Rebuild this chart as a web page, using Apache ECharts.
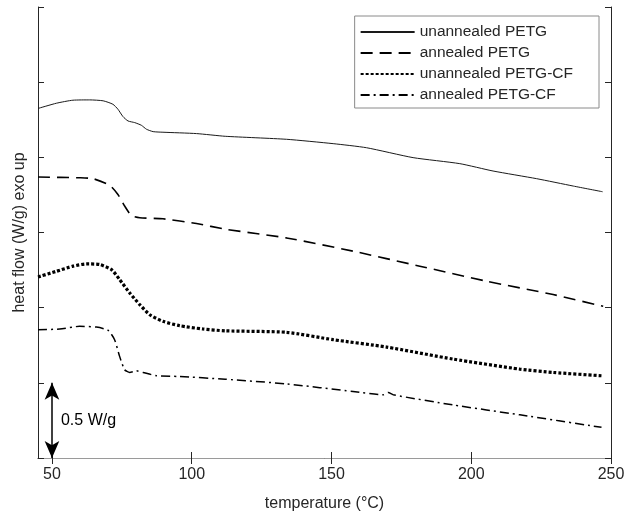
<!DOCTYPE html>
<html>
<head>
<meta charset="utf-8">
<script src="https://cdn.jsdelivr.net/npm/echarts@6/dist/echarts.min.js"></script>
<style>
  html, body { margin: 0; padding: 0; background: #fff; }
  #chart { width: 628px; height: 521px; }
</style>
</head>
<body>
<div id="chart"></div>
<script>
// DSC traces, temperature in °C, heat flow in W/g (offset curves)
var seriesNames = ['unannealed PETG', 'annealed PETG', 'unannealed PETG-CF', 'annealed PETG-CF'];

var tempUPETG = [45, 51.6, 57.5, 63.5, 68.3, 71.8, 73.6, 75.4, 77.2, 79.6, 82, 83.8, 86.2, 89.7, 101.7, 112, 133.9, 150.6, 162.5, 179.2, 195.9, 207.8, 223.4, 236.5, 247];
var heatUPETG = [2.325, 2.36, 2.38, 2.382, 2.376, 2.353, 2.32, 2.271, 2.242, 2.231, 2.213, 2.187, 2.171, 2.167, 2.158, 2.14, 2.12, 2.091, 2.064, 1.998, 1.958, 1.909, 1.858, 1.809, 1.771];

var tempAPETG = [45, 59.9, 64.7, 70.7, 73.6, 76, 78.4, 81.4, 89.7, 101.7, 112, 133.9, 157.7, 181.6, 205.5, 229.3, 247.2];
var heatAPETG = [1.869, 1.864, 1.858, 1.813, 1.753, 1.676, 1.613, 1.598, 1.591, 1.56, 1.522, 1.464, 1.376, 1.276, 1.176, 1.087, 1.009];

var tempUCF = [45, 51.6, 57.5, 62.3, 67.1, 71.3, 74.2, 77.8, 81.4, 85, 89.7, 95.7, 104, 112, 133.9, 150.6, 169.7, 193.5, 217.4, 229.3, 246.6];
var heatUCF = [1.204, 1.242, 1.276, 1.291, 1.287, 1.253, 1.187, 1.098, 1.02, 0.953, 0.909, 0.88, 0.858, 0.846, 0.836, 0.787, 0.738, 0.658, 0.591, 0.569, 0.547];

var tempACF = [45, 52.8, 59.9, 65.9, 70.1, 72.4, 74.2, 76, 77.8, 80.2, 82.6, 87.4, 95.7, 112, 133.9, 157.7, 168.5, 170.3, 172.1, 193.5, 217.4, 246.6];
var heatACF = [0.853, 0.858, 0.876, 0.871, 0.849, 0.787, 0.676, 0.587, 0.569, 0.58, 0.569, 0.547, 0.542, 0.524, 0.493, 0.442, 0.42, 0.436, 0.42, 0.353, 0.287, 0.204];

var xTicks = [50, 100, 150, 200, 250];
var scaleBarTemp = 50;
var scaleBarSize = 0.5;

function pairs(xs, ys) {
  return xs.map(function (x, i) { return [x, ys[i]]; });
}

var font = 'Liberation Sans, Arial, sans-serif';
var axisColor = '#262626';

var chart = echarts.init(document.getElementById('chart'), null, { renderer: 'canvas' });

var option = {
  animation: false,
  backgroundColor: '#fff',
  textStyle: { fontFamily: font },
  grid: { left: 38, right: 17, top: 7, bottom: 63 },
  legend: {
    orient: 'vertical',
    right: 29,
    top: 16,
    itemWidth: 54,
    itemHeight: 16,
    itemGap: 5,
    padding: [8, 26, 5, 5],
    borderColor: '#8a8a8a',
    borderWidth: 1,
    backgroundColor: '#fff',
    itemStyle: { opacity: 0 },
    textStyle: { fontFamily: font, fontSize: 15.5, color: '#262626' },
    data: seriesNames
  },
  xAxis: [{
    type: 'value',
    min: 45,
    max: 250,
    name: 'temperature (°C)',
    nameLocation: 'middle',
    nameGap: 38,
    nameTextStyle: { fontFamily: font, fontSize: 16, color: axisColor },
    axisLine: { lineStyle: { color: axisColor, width: 1 } },
    axisTick: { inside: true, length: 6, customValues: xTicks, lineStyle: { color: axisColor } },
    axisLabel: { customValues: xTicks, fontFamily: font, fontSize: 16, color: axisColor, margin: 9 },
    splitLine: { show: false }
  }, {
    type: 'value',
    position: 'top',
    min: 45,
    max: 250,
    axisLine: { show: true, lineStyle: { color: '#9a9a9a', width: 1 } },
    axisTick: { inside: true, length: 6, customValues: xTicks, lineStyle: { color: axisColor } },
    axisLabel: { show: false },
    splitLine: { show: false }
  }],
  yAxis: [{
    type: 'value',
    min: 0,
    max: 3,
    interval: 0.5,
    name: 'heat flow (W/g) exo up',
    nameLocation: 'middle',
    nameRotate: 90,
    nameGap: 10,
    nameTextStyle: { fontFamily: font, fontSize: 16, color: axisColor },
    axisLine: { show: true, lineStyle: { color: axisColor, width: 1 } },
    axisTick: { show: true, inside: true, length: 6, lineStyle: { color: axisColor } },
    axisLabel: { show: false },
    splitLine: { show: false }
  }, {
    type: 'value',
    position: 'right',
    min: 0,
    max: 3,
    interval: 0.5,
    axisLine: { show: true, lineStyle: { color: axisColor, width: 1 } },
    axisTick: { show: true, inside: true, length: 6, lineStyle: { color: axisColor } },
    axisLabel: { show: false },
    splitLine: { show: false }
  }],
  series: [{
    name: seriesNames[0],
    type: 'line',
    symbol: 'none',
    smooth: 0.2,
    color: '#1a1a1a',
    lineStyle: { color: '#1a1a1a', width: 1 },
    data: pairs(tempUPETG, heatUPETG)
  }, {
    name: seriesNames[1],
    type: 'line',
    symbol: 'none',
    smooth: 0.2,
    color: '#000',
    lineStyle: { color: '#000', width: 1.6, type: [12, 7] },
    data: pairs(tempAPETG, heatAPETG)
  }, {
    name: seriesNames[2],
    type: 'line',
    symbol: 'none',
    smooth: 0.2,
    color: '#000',
    lineStyle: { color: '#000', width: 3.2, type: [3, 2], cap: 'butt' },
    data: pairs(tempUCF, heatUCF)
  }, {
    name: seriesNames[3],
    type: 'line',
    symbol: 'none',
    smooth: 0.2,
    color: '#000',
    lineStyle: { color: '#000', width: 1.5, type: [9, 4, 2, 4] },
    data: pairs(tempACF, heatACF),
    markLine: {
      silent: true,
      symbol: ['arrow', 'arrow'],
      symbolSize: [11, 17],
      lineStyle: { color: '#000', width: 1.5, type: 'solid' },
      label: { show: false },
      data: [[{ coord: [scaleBarTemp, 0] }, { coord: [scaleBarTemp, scaleBarSize] }]]
    },
    markPoint: {
      silent: true,
      symbol: 'circle',
      symbolSize: 0,
      label: {
        show: true,
        position: 'right',
        distance: 9,
        formatter: '0.5 W/g',
        fontFamily: font,
        fontSize: 16,
        color: '#000'
      },
      data: [{ coord: [scaleBarTemp, scaleBarSize / 2] }]
    }
  }]
};

chart.setOption(option);
</script>
</body>
</html>
